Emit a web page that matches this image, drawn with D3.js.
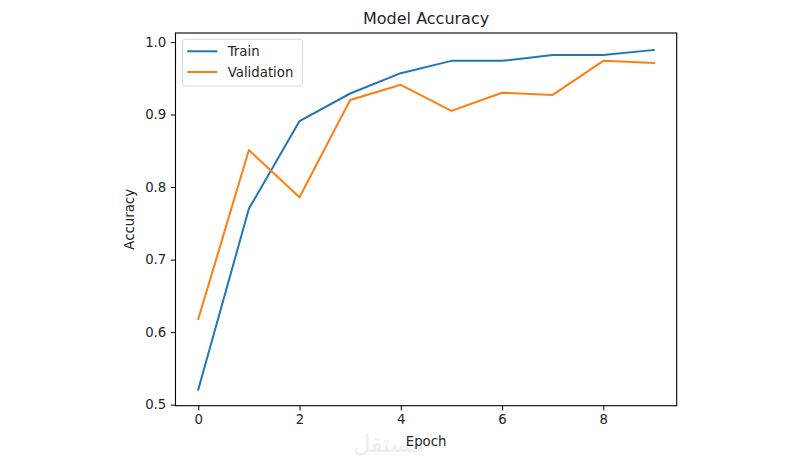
<!DOCTYPE html>
<html><head><meta charset="utf-8">
<script src="https://cdn.jsdelivr.net/npm/d3@7"></script>
<style>body{margin:0;background:#fff}svg{display:block}text{font-family:"DejaVu Sans",sans-serif;fill:#262626}</style>
</head><body><svg id="c" width="800" height="460"></svg>
<script>
const epochs = [0,1,2,3,4,5,6,7,8,9];
const trainAcc = [0.521,0.770,0.891,0.929,0.957,0.974,0.974,0.982,0.982,0.989];
const valAcc = [0.618,0.851,0.786,0.920,0.941,0.905,0.930,0.927,0.974,0.971];
const xTicks = [0,2,4,6,8];
const yTicks = [0.5,0.6,0.7,0.8,0.9,1.0];
const seriesNames = ["Train","Validation"];
const colors = ["#1f77b4","#ff7f0e"];

const svg = d3.select("#c");
const L=175.5, R=676.7, T=33, B=405.7;
const x = d3.scaleLinear().domain([-0.45,9.45]).range([L,R]);
const y = d3.scaleLinear().domain([0.4986,1.0124]).range([B,T]);

// watermark
svg.append("text").attr("x",388).attr("y",452).attr("text-anchor","middle")
  .style("font-family","'Noto Sans',sans-serif").style("font-size","24px")
  .style("fill","#eeeeee").attr("direction","rtl").text("مستقل");

const fs = "13.3px";
const xa = svg.append("g").attr("transform",`translate(0,${B})`)
  .call(d3.axisBottom(x).tickValues(xTicks).tickFormat(d3.format("d")).tickSize(4.7).tickPadding(4.5));
const ya = svg.append("g").attr("transform",`translate(${L},0)`)
  .call(d3.axisLeft(y).tickValues(yTicks).tickFormat(d3.format(".1f")).tickSize(4.7).tickPadding(4.5));
[xa,ya].forEach(a=>{a.select(".domain").remove();a.selectAll("text").style("font-size",fs).style("font-family","'DejaVu Sans',sans-serif").attr("fill","#262626");a.selectAll("line").attr("stroke","#000").attr("stroke-width",1);});

const line = d3.line().x((d,i)=>x(epochs[i])).y(d=>y(d));
[trainAcc,valAcc].forEach((s,k)=>{
  svg.append("path").datum(s).attr("d",line).attr("fill","none").attr("stroke",colors[k]).attr("stroke-width",2).attr("stroke-linejoin","round").attr("stroke-linecap","square");
});

svg.append("rect").attr("x",L).attr("y",T).attr("width",R-L).attr("height",B-T).attr("fill","none").attr("stroke","#000").attr("stroke-width",1.1);

// legend
const lg = svg.append("g");
lg.append("rect").attr("x",182.5).attr("y",39.3).attr("width",120).attr("height",46.7).attr("rx",3)
  .attr("fill","#fff").attr("fill-opacity",0.8).attr("stroke","#d9d9d9").attr("stroke-width",1);
seriesNames.forEach((n,k)=>{
  const yy = 51.3 + k*20.7;
  lg.append("line").attr("x1",187.3).attr("x2",217.3).attr("y1",yy).attr("y2",yy).attr("stroke",colors[k]).attr("stroke-width",2);
  lg.append("text").attr("x",227.7).attr("y",yy).attr("dy","0.35em").style("font-size",fs).text(n);
});

svg.append("text").attr("x",(L+R)/2).attr("y",24).attr("text-anchor","middle").style("font-size","16px").text("Model Accuracy");
svg.append("text").attr("x",(L+R)/2).attr("y",446).attr("text-anchor","middle").style("font-size",fs).text("Epoch");
svg.append("text").attr("transform",`translate(134,${(T+B)/2}) rotate(-90)`).attr("text-anchor","middle").style("font-size",fs).text("Accuracy");
</script></body></html>
